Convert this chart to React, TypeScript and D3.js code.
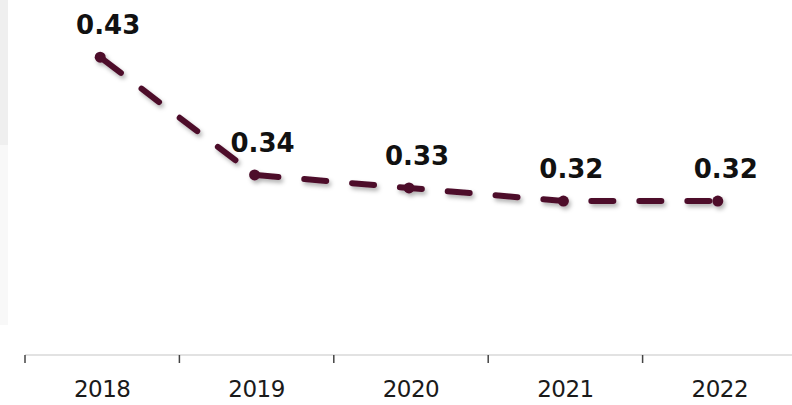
import React from "react";
import * as d3 from "d3";

const years = ["2018", "2019", "2020", "2021", "2022"];
const values = [0.43, 0.34, 0.33, 0.32, 0.32];
const valueLabels = ["0.43", "0.34", "0.33", "0.32", "0.32"];

const W = 792;
const H = 405;
const COLOR = "#4e0e2c";

export default function App() {
  const x = d3.scaleBand<string>().domain(years).range([25, 797]);
  const y = d3.scaleLinear().domain([0.2, 0.45]).range([358, 31]);
  const cx = (yr: string) => (x(yr) ?? 0) + x.bandwidth() / 2 - 2;
  const line = d3
    .line<number>()
    .x((_, i) => cx(years[i]))
    .y((v) => y(v));
  const axisY = 355;

  return (
    <svg
      width={W}
      height={H}
      style={{ position: "absolute", left: 0, top: 0, background: "#fff" }}
    >
      <defs>
        <filter id="shadow" x="-20%" y="-50%" width="140%" height="200%">
          <feDropShadow dx="2" dy="3" stdDeviation="2" floodColor="#000" floodOpacity="0.3" />
        </filter>
      </defs>
      <rect x={0} y={0} width={8} height={145} fill="#efefef" />
      <rect x={0} y={145} width={8} height={180} fill="#f8f8f8" />
      <line x1={25} x2={W} y1={axisY} y2={axisY} stroke="#e2e2e2" strokeWidth={2} />
      {years.map((yr) => (
        <line
          key={"t" + yr}
          x1={x(yr)}
          x2={x(yr)}
          y1={axisY}
          y2={axisY + 8}
          stroke="#444"
          strokeWidth={1.5}
        />
      ))}
      {years.map((yr) => (
        <text
          key={"l" + yr}
          x={(x(yr) ?? 0) + x.bandwidth() / 2}
          y={397}
          textAnchor="middle"
          fontFamily="DejaVu Sans"
          fontSize={23}
          fill="#1a1a1a"
          letterSpacing={-0.5}
        >
          {yr}
        </text>
      ))}
      <g filter="url(#shadow)">
        <path
          d={line(values) ?? ""}
          fill="none"
          stroke={COLOR}
          strokeWidth={6}
          strokeDasharray="22 26"
          strokeLinecap="round"
          strokeDashoffset={-4}
        />
        {values.map((v, i) => (
          <circle key={"c" + i} cx={cx(years[i])} cy={y(v)} r={5.5} fill={COLOR} />
        ))}
      </g>
      {values.map((v, i) => (
        <text
          key={"v" + i}
          x={cx(years[i]) + 8}
          y={y(v) - 23}
          textAnchor="middle"
          fontFamily="DejaVu Sans"
          fontWeight="bold"
          fontSize={26}
          fill="#111"
        >
          {valueLabels[i]}
        </text>
      ))}
    </svg>
  );
}
